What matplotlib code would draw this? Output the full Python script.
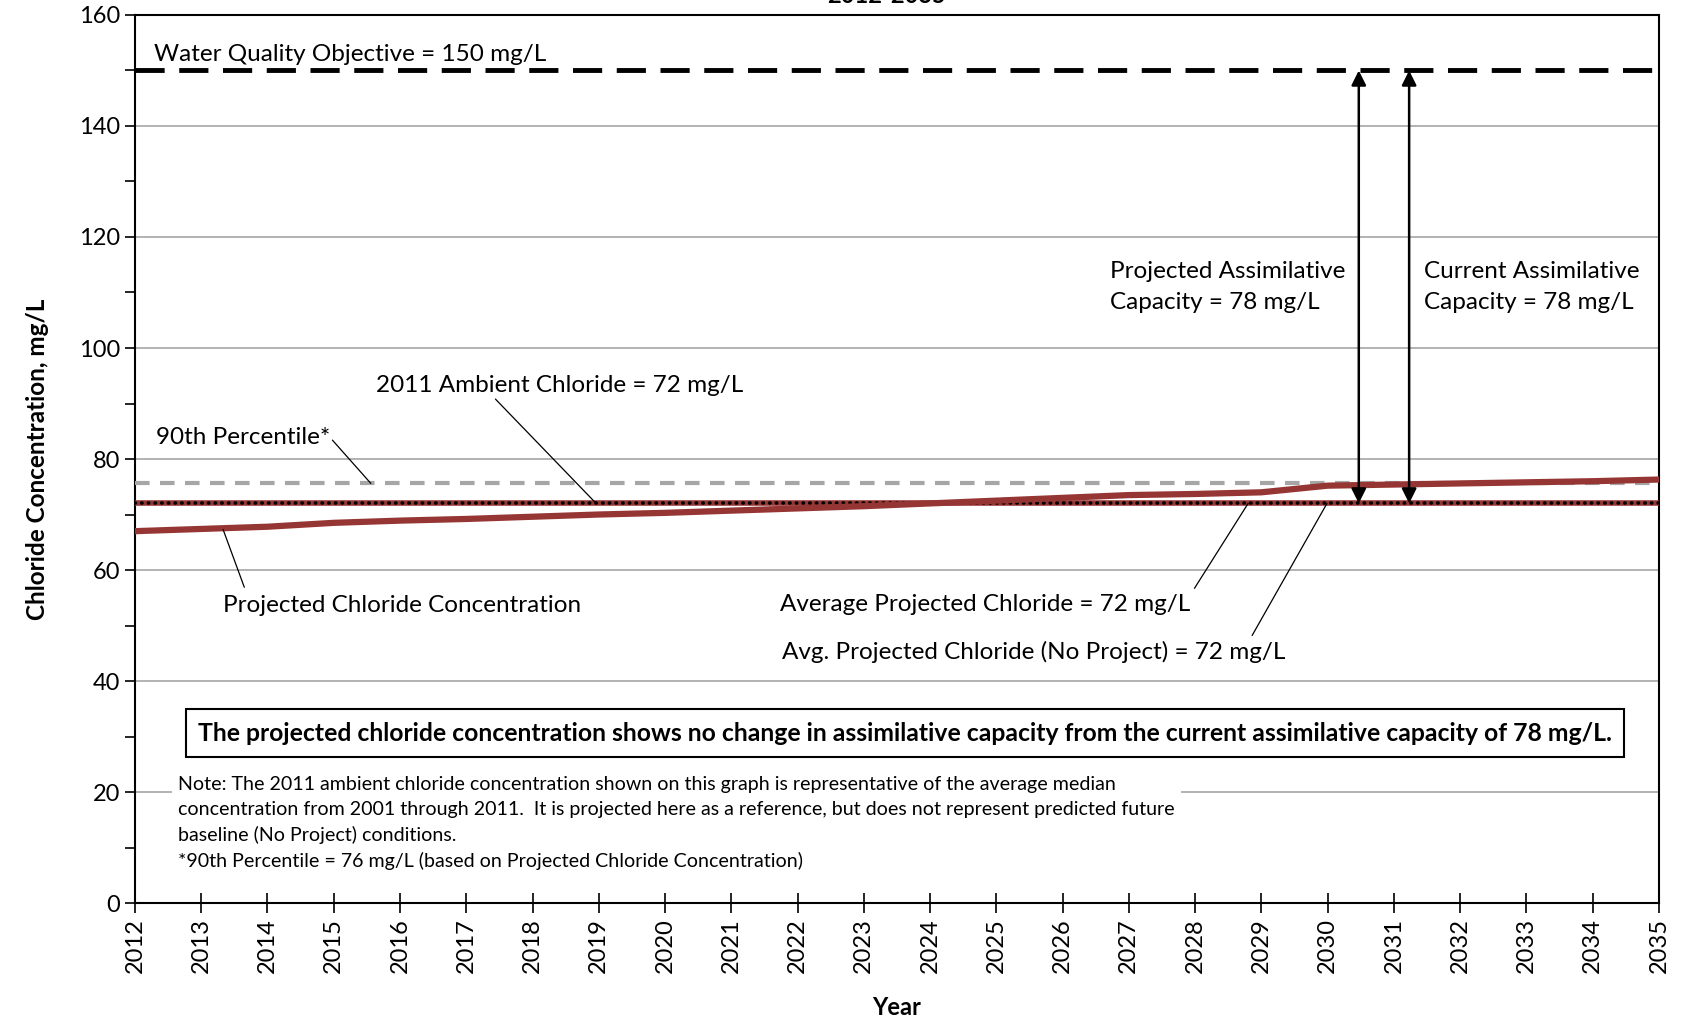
import numpy as np
import matplotlib.pyplot as plt

plt.rcParams['font.family'] = ['Lato', 'DejaVu Sans']

# Data
years = list(range(2012, 2036))
projected = [67.0, 67.4, 67.8, 68.5, 68.9, 69.2, 69.6, 70.0, 70.3, 70.7, 71.1, 71.5,
             72.0, 72.5, 73.0, 73.5, 73.7, 74.0, 75.2, 75.4, 75.6, 75.8, 76.0, 76.3]
wqo = 150
ambient_2011 = 72
avg_projected = 72
avg_no_project = 72
pct90 = 75.6
arrow_years = [2030.47, 2031.23]

dark_red = '#963634'

fig = plt.figure(figsize=(16.83, 10.19), dpi=100)
ax = fig.add_axes([0.0802, 0.1138, 0.9055, 0.8715])

ax.set_xlim(2012, 2035)
ax.set_ylim(0, 160)
ax.set_yticks(np.arange(0, 161, 20))
ax.set_yticks(np.arange(0, 161, 10), minor=True)
ax.set_xticks(years)
ax.set_xticklabels([str(y) for y in years], rotation=90)
ax.grid(axis='y', which='major', color='#a6a6a6', lw=1.2, zorder=0)
ax.tick_params(axis='y', which='both', direction='out', length=7, width=1.2, labelsize=17)
ax.tick_params(axis='x', direction='inout', length=14, width=1.2, labelsize=17, pad=4)
for s in ax.spines.values():
    s.set_linewidth(1.5)
    s.set_color('black')

ax.set_ylabel('Chloride Concentration, mg/L', fontsize=17.5, fontweight='bold', labelpad=22)
ax.set_xlabel('Year', fontsize=17, fontweight='bold', labelpad=16)

# lines
ax.axhline(wqo, color='black', lw=3.5, dashes=(6, 3), zorder=3)
ax.plot(years, [pct90] * len(years), color='#a6a6a6', lw=3, dashes=(3.5, 2.5), zorder=3)
ax.plot(years, [avg_projected] * len(years), color=dark_red, lw=4, zorder=4)
ax.plot(years, [avg_no_project] * len(years), color='black', lw=2.6, dashes=(0.1, 1.75),
        dash_capstyle='round', zorder=5)
ax.plot(years, projected, color=dark_red, lw=4.5, zorder=6)

# assimilative capacity arrows
for xa in arrow_years:
    ax.annotate('', xy=(xa, wqo), xytext=(xa, ambient_2011),
                arrowprops=dict(arrowstyle='<|-|>', color='black', lw=1.8,
                                mutation_scale=22, shrinkA=0, shrinkB=0), zorder=7)

fs = 17.5
ax.text(2012.29, 152.8, 'Water Quality Objective = 150 mg/L', fontsize=fs, va='center')
ax.text(2026.72, 111.0, 'Projected Assimilative\nCapacity = 78 mg/L', fontsize=fs,
        va='center', linespacing=1.55)
ax.text(2031.45, 111.0, 'Current Assimilative\nCapacity = 78 mg/L', fontsize=fs,
        va='center', linespacing=1.55)
ax.text(2015.64, 93.3, '2011 Ambient Chloride = 72 mg/L', fontsize=fs, va='center')
ax.text(2012.32, 83.8, '90th Percentile*', fontsize=fs, va='center')
ax.text(2013.33, 53.6, 'Projected Chloride Concentration', fontsize=fs, va='center')
ax.text(2021.73, 53.8, 'Average Projected Chloride = 72 mg/L', fontsize=fs, va='center')
ax.text(2021.77, 45.2, 'Avg. Projected Chloride (No Project) = 72 mg/L', fontsize=fs, va='center')

leaders = [((2017.44, 90.8), (2018.96, ambient_2011)),
           ((2014.98, 83.4), (2015.56, pct90)),
           ((2013.65, 56.9), (2013.33, projected[0] + 0.3)),
           ((2027.99, 56.7), (2028.80, avg_projected)),
           ((2028.86, 48.2), (2029.99, avg_no_project))]
for start, end in leaders:
    ax.annotate('', xy=end, xytext=start,
                arrowprops=dict(arrowstyle='-', color='black', lw=0.9,
                                shrinkA=0, shrinkB=0), zorder=8)

ax.text(2023.62, 30.6,
        'The projected chloride concentration shows no change in assimilative capacity '
        'from the current assimilative capacity of 78 mg/L.',
        fontsize=17.8, fontweight='bold', ha='center', va='center', zorder=9,
        bbox=dict(boxstyle='square,pad=0.5', fc='white', ec='black', lw=1.5))

note = ('Note: The 2011 ambient chloride concentration shown on this graph is representative of the average median\n'
        'concentration from 2001 through 2011.  It is projected here as a reference, but does not represent predicted future\n'
        'baseline (No Project) conditions.\n'
        '*90th Percentile = 76 mg/L (based on Projected Chloride Concentration)')
ax.text(2012.65, 22.9, note, fontsize=14.1, va='top', linespacing=1.55, zorder=9,
        bbox=dict(boxstyle='square,pad=0.3', fc='white', ec='none'))

fig.text(0.527, 1.004, '2012-2035', fontsize=17, fontweight='bold', ha='center', va='center')

fig.savefig('out.png', dpi=100)
